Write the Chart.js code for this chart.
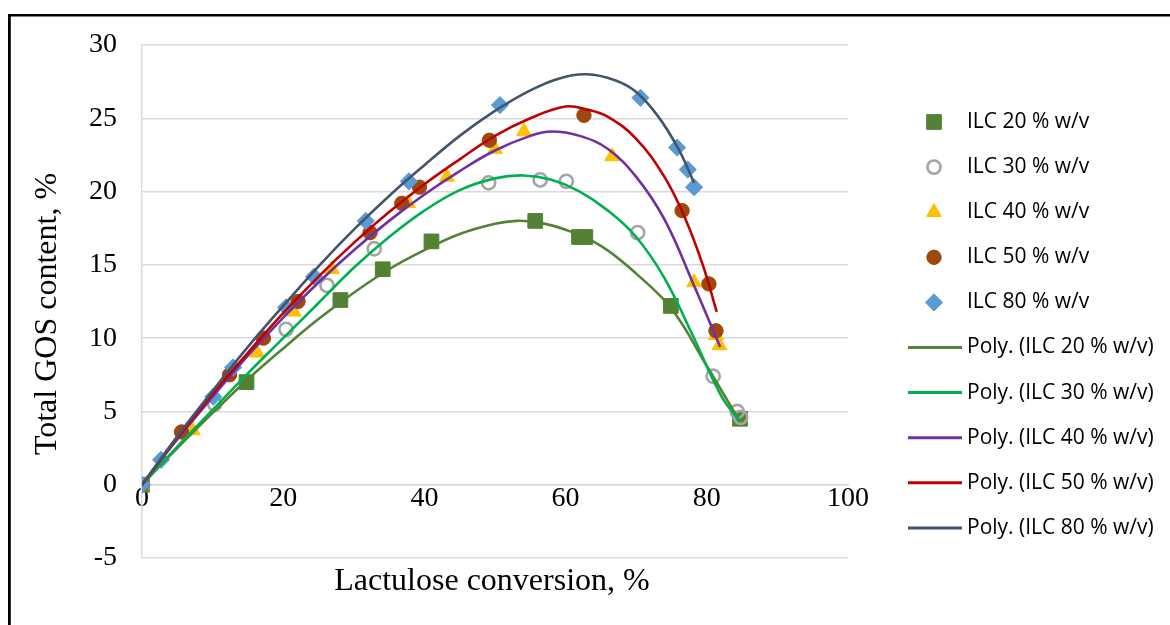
<!DOCTYPE html>
<html>
<head>
<meta charset="utf-8">
<script src="https://cdn.jsdelivr.net/npm/chart.js@4.4.0/dist/chart.umd.min.js"></script>
<style>
  html, body { margin: 0; padding: 0; background: #fff; }
  #wrap { width: 1170px; height: 625px; position: relative; }
</style>
</head>
<body>
<div id="wrap"><canvas id="chart" width="1170" height="625"></canvas></div>
<script>
// ---- measured points (lactulose conversion %, total GOS %) ----
const conv20 = [0, 14.8, 28.1, 34.1, 41.0, 55.7, 61.9, 62.8, 74.9, 84.7];
const gos20  = [0, 7.0, 12.6, 14.7, 16.6, 18.0, 16.9, 16.9, 12.2, 4.5];

const conv30 = [0, 10.3, 20.4, 26.2, 32.9, 49.1, 56.4, 60.1, 70.2, 80.9, 84.3, 84.8];
const gos30  = [0, 5.5, 10.6, 13.6, 16.1, 20.6, 20.8, 20.7, 17.2, 7.4, 5.0, 4.6];

const conv40 = [0, 7.2, 16.3, 21.5, 26.9, 37.7, 43.2, 50.0, 54.1, 66.6, 78.2, 81.3, 81.8];
const gos40  = [0, 3.7, 9.0, 11.8, 14.7, 19.2, 21.0, 22.9, 24.1, 22.4, 13.8, 10.2, 9.5];

const conv50 = [0, 5.6, 12.4, 17.2, 22.1, 32.3, 36.8, 39.3, 49.2, 62.6, 76.5, 80.3, 81.3];
const gos50  = [0, 3.6, 7.5, 10.0, 12.5, 17.2, 19.2, 20.3, 23.5, 25.2, 18.7, 13.7, 10.5];

const conv80 = [0, 2.7, 10.1, 12.9, 20.4, 24.4, 31.7, 37.8, 50.7, 70.6, 75.8, 77.3, 78.2];
const gos80  = [0, 1.7, 6.0, 8.0, 12.1, 14.2, 18.0, 20.7, 25.9, 26.4, 23.0, 21.5, 20.3];

// ---- polynomial trendlines ----
const trend20X = [0, 5, 10, 15, 20, 25, 30, 35, 40, 45, 50, 53, 56, 60, 65, 70, 75, 80, 84.7];
const trend20Y = [0, 2.5, 4.9, 7.2, 9.3, 11.3, 13.1, 14.7, 16.0, 17.1, 17.8, 18.0, 17.9, 17.4, 16.3, 14.4, 12.0, 8.1, 4.3];

const trend30X = [0, 5, 10, 15, 20, 25, 30, 35, 40, 45, 50, 54, 58, 62, 66, 70, 74, 78, 82, 84.7];
const trend30Y = [0, 2.6, 5.1, 7.6, 10.0, 12.4, 14.8, 16.9, 18.7, 20.1, 20.9, 21.1, 20.8, 20.0, 18.7, 16.9, 14.1, 10.2, 6.1, 4.3];

const trend40X = [0, 5, 10, 15, 20, 25, 30, 35, 40, 45, 50, 55, 58, 62, 66, 70, 74, 78, 81.9];
const trend40Y = [0, 3.1, 6.0, 8.8, 11.4, 13.8, 16.0, 18.0, 19.8, 21.4, 22.8, 23.8, 24.1, 23.8, 22.9, 21.0, 18.1, 13.8, 9.4];

const trend50X = [0, 5, 10, 15, 20, 25, 30, 35, 40, 45, 50, 55, 60, 63, 66, 70, 74, 77, 79.5, 81.4];
const trend50Y = [0, 3.2, 6.2, 9.0, 11.7, 14.2, 16.5, 18.6, 20.5, 22.2, 23.8, 25.0, 25.8, 25.6, 25.1, 23.6, 21.0, 18.1, 14.9, 11.8];

const trend80X = [0, 5, 10, 15, 20, 25, 30, 35, 40, 45, 50, 55, 59, 63, 67, 70, 73, 76, 78.2];
const trend80Y = [0, 3.3, 6.4, 9.4, 12.2, 14.9, 17.4, 19.7, 21.8, 23.8, 25.5, 26.9, 27.7, 28.0, 27.6, 26.8, 25.2, 22.9, 20.6];

const seriesNames = ['ILC 20 % w/v', 'ILC 30 % w/v', 'ILC 40 % w/v', 'ILC 50 % w/v', 'ILC 80 % w/v'];
const xTicks = [0, 20, 40, 60, 80, 100];
const yTicks = [-5, 0, 5, 10, 15, 20, 25, 30];

const toPoints = (xs, ys) => xs.map((x, i) => ({ x: x, y: ys[i] }));

const SERIF = '"Liberation Serif", "Times New Roman", serif';
const SANS = '"Open Sans", "Liberation Sans", sans-serif';

function markerSet(name, xs, ys, style, fill, stroke, width, radius, order) {
  return {
    label: name,
    data: toPoints(xs, ys),
    showLine: false,
    pointStyle: style,
    pointRadius: radius,
    pointHoverRadius: radius,
    pointBackgroundColor: fill,
    pointBorderColor: stroke,
    pointBorderWidth: width,
    backgroundColor: fill,
    borderColor: stroke,
    borderWidth: width,
    order: order
  };
}

function trendSet(name, xs, ys, color, order) {
  return {
    label: 'Poly. (' + name + ')',
    data: toPoints(xs, ys),
    showLine: true,
    pointRadius: 0,
    borderColor: color,
    backgroundColor: color,
    borderWidth: 2.6,
    tension: 0.4,
    fill: false,
    order: order
  };
}

const datasets = [
  markerSet(seriesNames[0], conv20, gos20, 'rect', '#548235', '#548235', 1, 10.4, 10),
  markerSet(seriesNames[1], conv30, gos30, 'circle', 'rgba(255,255,255,0)', '#A5A5A5', 2.6, 6.6, 9),
  markerSet(seriesNames[2], conv40, gos40, 'triangle', '#FFC000', '#FFC000', 1, 8.6, 8),
  markerSet(seriesNames[3], conv50, gos50, 'circle', '#9E480E', '#9E480E', 1, 7.2, 7),
  markerSet(seriesNames[4], conv80, gos80, 'rectRot', '#5B9BD5', '#5B9BD5', 1, 8.6, 6),
  trendSet(seriesNames[0], trend20X, trend20Y, '#548235', 5),
  trendSet(seriesNames[1], trend30X, trend30Y, '#00B050', 4),
  trendSet(seriesNames[2], trend40X, trend40Y, '#7030A0', 3),
  trendSet(seriesNames[3], trend50X, trend50Y, '#C00000', 2),
  trendSet(seriesNames[4], trend80X, trend80Y, '#44546A', 1)
];

// frame, axis titles and the legend column on the right
const decorations = {
  id: 'decorations',
  afterDraw(chart) {
    const ctx = chart.ctx;
    const area = chart.chartArea;
    ctx.save();

    // outer frame (top and left only)
    ctx.fillStyle = '#000';
    ctx.fillRect(8, 14, 1162, 2.5);
    ctx.fillRect(8, 14, 2.8, 611);

    // axis titles
    ctx.fillStyle = '#000';
    ctx.font = '32px ' + SERIF;
    ctx.textAlign = 'center';
    ctx.textBaseline = 'middle';
    ctx.fillText('Lactulose conversion, %', (area.left + area.right) / 2 - 3, 582);
    ctx.save();
    ctx.translate(48, 314);
    ctx.rotate(-Math.PI / 2);
    ctx.fillText('Total GOS content, %', 0, 0);
    ctx.restore();

    // legend
    ctx.font = '21px ' + SANS;
    ctx.textAlign = 'left';
    ctx.textBaseline = 'middle';
    const rowTop = 122, rowGap = 45.1;
    chart.data.datasets.forEach((ds, i) => {
      const y = rowTop + i * rowGap;
      if (ds.showLine) {
        ctx.strokeStyle = ds.borderColor;
        ctx.lineWidth = 3;
        ctx.beginPath();
        ctx.moveTo(908, y);
        ctx.lineTo(962, y);
        ctx.stroke();
      } else {
        ctx.save();
        ctx.fillStyle = ds.pointBackgroundColor;
        ctx.strokeStyle = ds.pointBorderColor;
        ctx.lineWidth = ds.pointBorderWidth;
        Chart.helpers.drawPoint(ctx, {
          pointStyle: ds.pointStyle,
          radius: ds.pointRadius,
          rotation: 0,
          borderWidth: ds.pointBorderWidth
        }, 934, y);
        ctx.restore();
      }
      ctx.fillStyle = '#000';
      ctx.fillText(ds.label, 967, y);
    });
    ctx.restore();
  }
};

new Chart(document.getElementById('chart'), {
  type: 'scatter',
  data: { datasets: datasets },
  options: {
    responsive: false,
    animation: false,
    devicePixelRatio: 1,
    layout: { padding: { left: 0, right: 322, top: 45, bottom: 67 } },
    plugins: {
      legend: { display: false },
      tooltip: { enabled: false }
    },
    scales: {
      x: {
        type: 'linear',
        min: 0,
        max: 100,
        position: { y: 0 },
        afterBuildTicks: (s) => { s.ticks = xTicks.map(v => ({ value: v })); },
        grid: { display: false, drawTicks: false },
        border: { display: true, color: '#D9D9D9', width: 1.5 },
        ticks: { color: '#000', padding: -3, font: { family: SERIF, size: 28 } }
      },
      y: {
        type: 'linear',
        min: -5,
        max: 30,
        afterBuildTicks: (s) => { s.ticks = yTicks.map(v => ({ value: v })); },
        afterFit: (s) => { s.width = 142; },
        grid: { color: '#D9D9D9', lineWidth: 1.5, drawTicks: false },
        border: { display: true, color: '#D9D9D9', width: 1.5 },
        ticks: { color: '#000', padding: 25, font: { family: SERIF, size: 28 } }
      }
    }
  },
  plugins: [decorations]
});
</script>
</body>
</html>
